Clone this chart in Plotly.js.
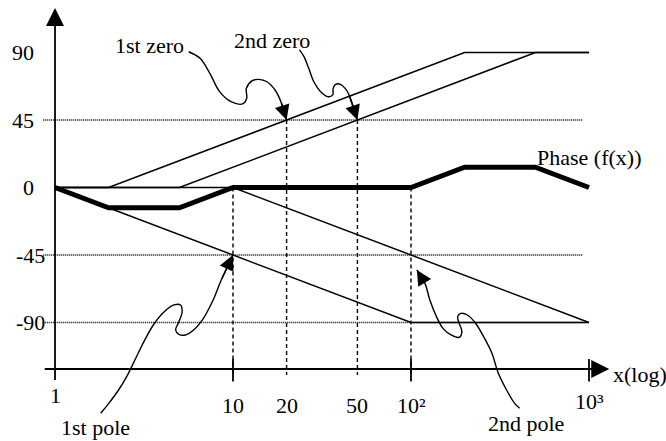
<!DOCTYPE html>
<html>
<head>
<meta charset="utf-8">
<script src="https://cdn.plot.ly/plotly-3.0.1.min.js"></script>
<style>
  html, body { margin: 0; padding: 0; background: #fff; }
  #chart { width: 666px; height: 441px; }
</style>
</head>
<body>
<div id="chart"></div>
<script>
// Asymptotic Bode phase construction: two poles, two zeros and their sum.
const poleOneX = [1, 100, 1000];
const poleOneY = [0, -90, -90];
const poleTwoX = [1, 10, 1000];
const poleTwoY = [0, 0, -90];
const zeroOneX = [1, 2, 200, 1000];
const zeroOneY = [0, 0, 90, 90];
const zeroTwoX = [1, 5, 500, 1000];
const zeroTwoY = [0, 0, 90, 90];
const phaseX = [1, 2, 5, 10, 100, 200, 500, 1000];
const phaseY = [0, -13.5, -13.5, 0, 0, 13.5, 13.5, 0];

// Axis labelling
const yTickValues = [90, 45, 0, -45, -90];
const gridLevels = [45, -45, -90];
const xTickValues = [1, 10, 20, 50, 100, 1000];
const xTickText = ['1', '10', '20', '50', '10\u00B2', '10\u00B3'];
const xTickMarks = [10, 100, 1000];
const guideX = [10, 20, 50, 100];
const guideTop = [0, 45, 45, 0];

// Wavy callout leaders, from the label to the arrow tip
const zeroOneLeadX = [5.64, 6.53, 7.41, 8.41, 9.75, 11.31, 11.94, 11.89, 12.83, 13.95, 15.51, 17.23, 18.59, 20];
const zeroOneLeadY = [90.5, 86.1, 76.1, 63.9, 57.2, 55.7, 59.5, 66.1, 71.2, 72.1, 70.5, 65, 57.2, 45];
const zeroTwoLeadX = [23.64, 25.05, 26.63, 28.44, 31.07, 34.24, 36.34, 36.52, 37.7, 40.16, 42.67, 44.89, 50];
const zeroTwoLeadY = [91.7, 87.2, 79.5, 70.5, 63.9, 60.5, 61.7, 66.1, 68.8, 68.8, 66.1, 61.7, 45];
const poleOneLeadX = [1.806, 2.005, 2.276, 2.527, 2.811, 3.191, 3.622, 4.109, 4.664, 5.069, 5.18, 4.968, 4.76, 4.968, 5.401, 6.005, 6.817, 7.734, 8.592, 10];
const poleOneLeadY = [-150.5, -143.9, -135, -126.1, -115, -101.7, -90.5, -82.8, -78.3, -78.3, -82.8, -89.5, -95, -97.9, -98.3, -95, -87.2, -75, -61.7, -45];
const poleTwoLeadX = [407.3, 382.3, 344.2, 309.6, 284.8, 256.0, 230.5, 207.5, 190.6, 182.9, 186.6, 193.1, 186.6, 168.0, 151.2, 139.0, 127.6, 119.8, 107.9];
const poleTwoLeadY = [-147.2, -143.9, -135, -123.9, -110.5, -99.5, -90.5, -85, -83.9, -86.1, -90.5, -96.1, -99.9, -98.3, -93.9, -86.1, -75, -63.9, -55];

const calloutText = ['1st zero', '2nd zero', '1st pole', '2nd pole'];
const calloutX = [3.41, 16.59, 1.68, 444.9];
const calloutY = [95, 97.7, -160.3, -157];

// Drawing geometry (axis frame, in data units)
const AXIS_Y = -121;
const AXIS_X_FROM = 0.859, AXIS_X_TO = 1300;
const Y_AXIS_FROM = -129.3, Y_AXIS_TO = 119.7;
const GRID_FROM = 0.859, GRID_TO = 925;
const TICK_TOP = -114.3, TICK_BOTTOM = -129.3;
const GUIDE_FLOOR = -125;

const FONT = 'Liberation Serif, Times New Roman, serif';
const log = Math.log10;

function seg(x, y, width, dash, shape) {
  return {
    type: 'scatter', mode: 'lines', x: x, y: y,
    line: { color: '#000', width: width, dash: dash || 'solid', shape: shape || 'linear', smoothing: 1 },
    hoverinfo: 'skip'
  };
}

const traces = [];
gridLevels.forEach(v => traces.push(seg([GRID_FROM, GRID_TO], [v, v], 1.3, '1px,1px')));
traces.push(seg(poleOneX, poleOneY, 1.5));
traces.push(seg(poleTwoX, poleTwoY, 1.5));
traces.push(seg(zeroOneX, zeroOneY, 1.5));
traces.push(seg(zeroTwoX, zeroTwoY, 1.5));
guideX.forEach((g, i) => traces.push(seg([g, g], [guideTop[i], GUIDE_FLOOR], 1.4, '4px,3px')));
xTickMarks.forEach(t => traces.push(seg([t, t], [TICK_TOP, TICK_BOTTOM], 1.8)));
traces.push(seg(phaseX, phaseY, 5));

const leaders = [
  [zeroOneLeadX, zeroOneLeadY],
  [zeroTwoLeadX, zeroTwoLeadY],
  [poleOneLeadX, poleOneLeadY],
  [poleTwoLeadX, poleTwoLeadY]
];
leaders.forEach(([lx, ly]) => traces.push(seg(lx, ly, 1.4, 'solid', 'spline')));

const annotations = [];

// Axes with arrowheads
annotations.push({
  x: log(AXIS_X_TO), y: AXIS_Y, ax: log(AXIS_X_FROM), ay: AXIS_Y,
  xref: 'x', yref: 'y', axref: 'x', ayref: 'y', text: '',
  showarrow: true, arrowhead: 2, arrowsize: 2, arrowwidth: 1.8, arrowcolor: '#000', standoff: 0
});
annotations.push({
  x: 0, y: Y_AXIS_TO, ax: 0, ay: Y_AXIS_FROM,
  xref: 'x', yref: 'y', axref: 'x', ayref: 'y', text: '',
  showarrow: true, arrowhead: 2, arrowsize: 2, arrowwidth: 1.8, arrowcolor: '#000', standoff: 0
});

// Arrowheads at the end of each callout leader
leaders.forEach(([lx, ly]) => {
  const n = lx.length;
  annotations.push({
    x: log(lx[n - 1]), y: ly[n - 1], ax: log(lx[n - 2]), ay: ly[n - 2],
    xref: 'x', yref: 'y', axref: 'x', ayref: 'y', text: '',
    showarrow: true, arrowhead: 2, arrowsize: 2, arrowwidth: 1.5, arrowcolor: '#000', standoff: 0
  });
});

// Callout labels
calloutText.forEach((t, i) => annotations.push({
  x: log(calloutX[i]), y: calloutY[i], xref: 'x', yref: 'y', text: t,
  showarrow: false, xanchor: 'center', yanchor: 'middle'
}));
annotations.push({
  x: log(phaseX[phaseX.length - 1]), y: 20.3, xref: 'x', yref: 'y', text: 'Phase (f(x))',
  showarrow: false, xanchor: 'center', yanchor: 'middle'
});
annotations.push({
  x: log(AXIS_X_TO), y: AXIS_Y, xref: 'x', yref: 'y', text: 'x(log)',
  showarrow: false, xanchor: 'left', yanchor: 'middle', xshift: 2, yshift: -5
});

// Tick labels (negative values sit a little closer to the axis)
yTickValues.forEach(v => annotations.push({
  x: (v < 0 ? 47 : 36) / 666, y: v, xref: 'paper', yref: 'y', text: String(v),
  showarrow: false, xanchor: 'right', yanchor: 'middle'
}));
xTickValues.forEach((v, i) => {
  const raised = (v === 1) ? 10 : (v === 1000 ? 4 : 0);
  annotations.push({
    x: log(v), y: AXIS_Y, xref: 'x', yref: 'y', text: xTickText[i],
    showarrow: false, xanchor: 'center', yanchor: 'middle', yshift: -36 + raised
  });
});

const layout = {
  width: 666, height: 441,
  margin: { l: 0, r: 0, t: 0, b: 0 },
  paper_bgcolor: '#fff', plot_bgcolor: '#fff',
  showlegend: false,
  font: { family: FONT, size: 22, color: '#000' },
  xaxis: { type: 'log', range: [-55 / 178, 611 / 178], visible: false, fixedrange: true },
  yaxis: { range: [-169, 125], visible: false, fixedrange: true },
  annotations: annotations,
  hovermode: false
};

Plotly.newPlot('chart', traces, layout, { staticPlot: true, displayModeBar: false });
</script>
</body>
</html>
